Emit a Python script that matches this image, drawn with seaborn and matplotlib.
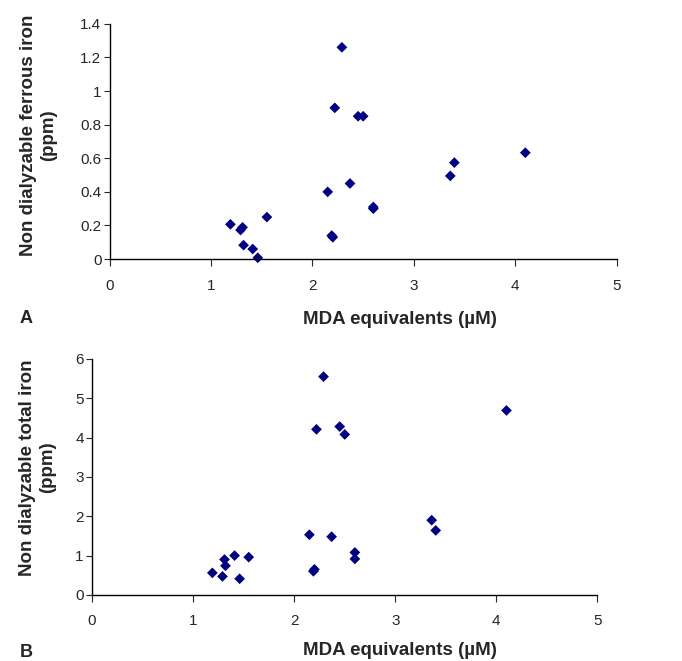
import seaborn as sns
import matplotlib.pyplot as plt
import pandas as pd
import numpy as np
from matplotlib.ticker import FuncFormatter

# MDA equivalents (uM), shared by both panels
mda = [1.19, 1.29, 1.31, 1.32, 1.41, 1.46, 1.55, 2.15, 2.19, 2.20,
       2.22, 2.29, 2.37, 2.45, 2.50, 2.60, 2.60, 3.36, 3.40, 4.10]
# panel A - non dialyzable ferrous iron (ppm)
ferrous = [0.207, 0.173, 0.189, 0.083, 0.06, 0.008, 0.25, 0.40, 0.14, 0.13,
           0.90, 1.26, 0.45, 0.85, 0.85, 0.31, 0.30, 0.495, 0.574, 0.633]
# panel B - non dialyzable total iron (ppm)
total = [0.56, 0.47, 0.90, 0.74, 1.00, 0.41, 0.96, 1.53, 0.60, 0.65,
         4.21, 5.55, 1.48, 4.28, 4.08, 1.08, 0.915, 1.90, 1.64, 4.69]

df = pd.DataFrame({'mda': mda, 'ferrous': ferrous, 'total': total})

sns.set_style('white')
plt.rcParams['font.family'] = ['Liberation Sans', 'DejaVu Sans']

fig = plt.figure(figsize=(6.82, 6.61), dpi=100)
ax1 = fig.add_axes([0.161, 0.608, 0.743, 0.356])
ax2 = fig.add_axes([0.135, 0.100, 0.741, 0.357])

# axis, column, ymax, step, ylabel, tag, xlabel x, xlabel y, ylabel x, ylabel y, tag pos
panels = [
    (ax1, 'ferrous', 1.4, 0.2, 'Non dialyzable ferrous iron\n(ppm)', 'A',
     0.572, -0.221, -0.103, 0.528, (-0.178, -0.251)),
    (ax2, 'total', 6, 1, 'Non dialyzable total iron\n(ppm)', 'B',
     0.61, -0.2, -0.071, 0.54, (-0.143, -0.242)),
]

for ax, col, ymax, ystep, ylab, tag, xlx, xly, ylx, yly, tagpos in panels:
    sns.scatterplot(data=df, x='mda', y=col, marker='D', s=30,
                    color='#000080', edgecolor='none', linewidth=0,
                    clip_on=False, ax=ax)
    ax.set_xlim(0, 5)
    ax.set_ylim(0, ymax)
    ax.set_xticks(np.arange(0, 6, 1))
    ax.set_yticks(np.arange(0, ymax + ystep / 2, ystep))
    ax.yaxis.set_major_formatter(FuncFormatter(lambda v, p: '%g' % round(v, 2)))
    ax.xaxis.set_major_formatter(FuncFormatter(lambda v, p: '%g' % v))
    ax.spines['top'].set_visible(False)
    ax.spines['right'].set_visible(False)
    for s in ['left', 'bottom']:
        ax.spines[s].set_color('black')
        ax.spines[s].set_linewidth(1)
    ax.tick_params(axis='x', direction='out', length=5, width=0.8,
                   pad=9, labelsize=11, bottom=True)
    ax.tick_params(axis='y', direction='out', length=4, width=0.8,
                   pad=2, labelsize=11, left=True)
    ax.set_xlabel('MDA equivalents (\u00b5M)', fontsize=13.5, fontweight='bold')
    ax.xaxis.set_label_coords(xlx, xly)
    ax.set_ylabel(ylab, fontsize=13.5, fontweight='bold', linespacing=1.25)
    ax.yaxis.set_label_coords(ylx, yly)
    ax.text(tagpos[0], tagpos[1], tag, transform=ax.transAxes, fontsize=13,
            fontweight='bold', ha='left', va='center')

plt.savefig('out.png', dpi=100)
